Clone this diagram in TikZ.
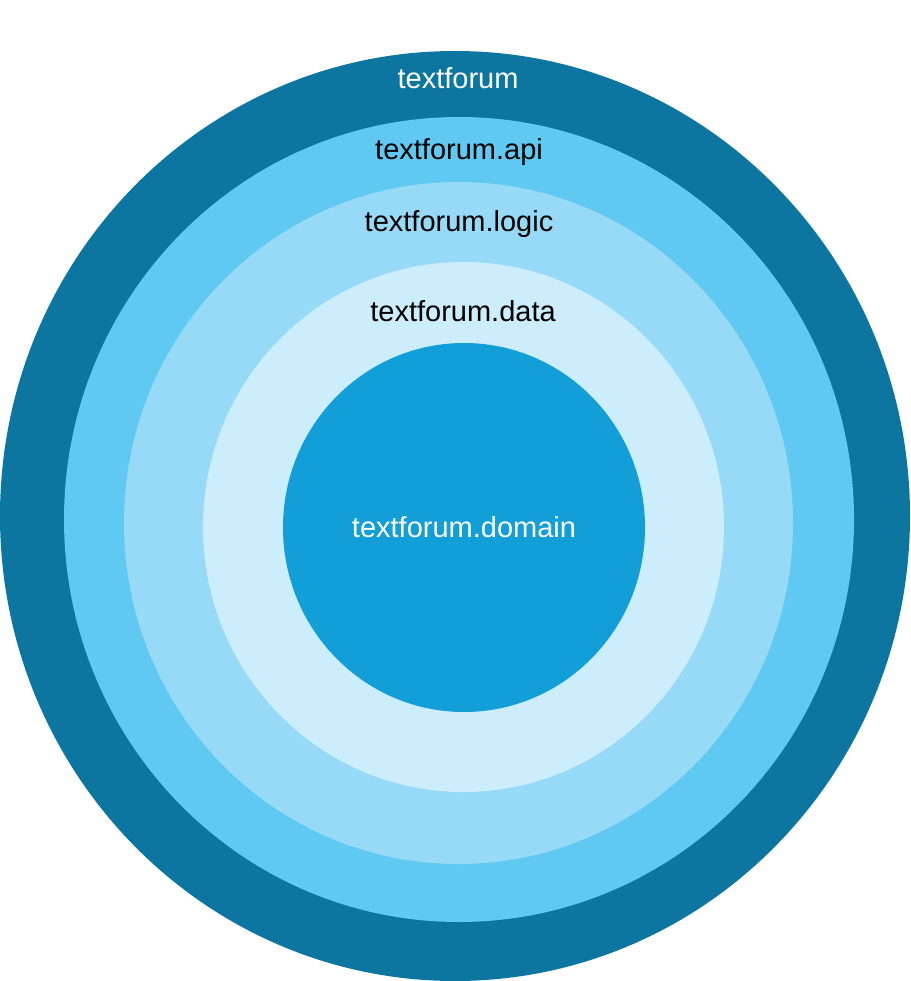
\documentclass[tikz,border=0pt]{standalone}
\usepackage{fontspec}
\setmainfont{Liberation Sans}
\usepackage{xcolor}
\usepackage{tikz}
\definecolor{outerblue}{HTML}{0C76A0}
\definecolor{apiblue}{HTML}{5FC9F1}
\definecolor{logicblue}{HTML}{97DAF7}
\definecolor{datablue}{HTML}{CCEDFB}
\definecolor{domainblue}{HTML}{129ED6}
\tikzset{
    ring/.style={draw=none},
    layer/.style={font=\fontsize{29}{33}\selectfont, text=black, inner sep=0pt},
    darklayer/.style={layer, text=white},
}

\begin{document}
\begin{tikzpicture}[x=1pt, y=-1pt]
    \useasboundingbox (0,0) rectangle (910,981);

    % layers, outside in
    \fill[ring, outerblue] (455,516) ellipse [x radius=455, y radius=465];
    \fill[ring, apiblue] (459,519.5) ellipse [x radius=395, y radius=402.5];
    \fill[ring, logicblue] (458.5,523) ellipse [x radius=334.5, y radius=341];
    \fill[ring, datablue] (463.5,527) ellipse [x radius=260.5, y radius=265];
    \fill[ring, domainblue] (464,527.5) ellipse [x radius=181, y radius=184.5];

    \node[darklayer] (forum) at (458,78) {textforum};
    \node[layer] (api) at (459,152) {textforum.api};
    \node[layer] (logic) at (459,224) {textforum.logic};
    \node[layer] (data) at (463,311) {textforum.data};
    \node[darklayer] (domain) at (464,527) {textforum.domain};
\end{tikzpicture}
\end{document}
